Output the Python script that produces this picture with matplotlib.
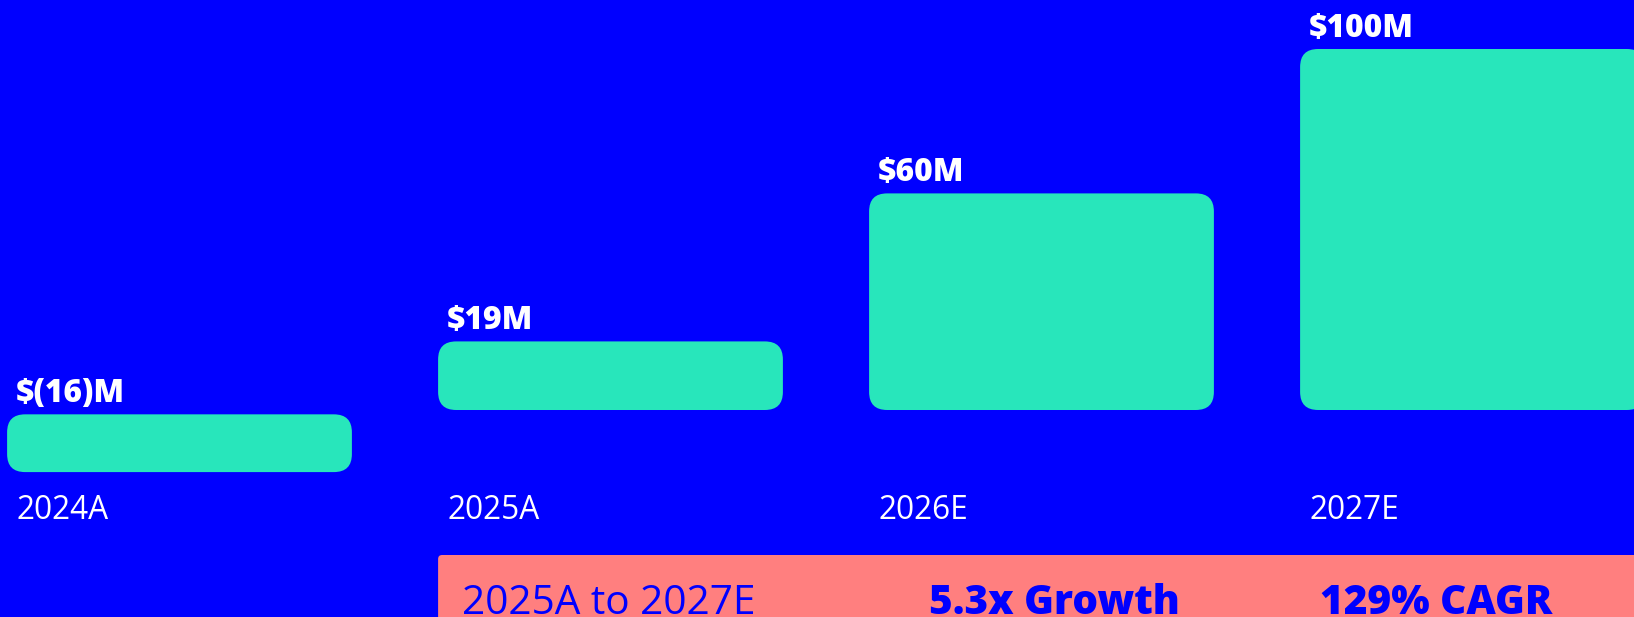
import matplotlib
matplotlib.use("Agg")
import matplotlib.pyplot as plt
from matplotlib.patches import FancyBboxPatch

# ---- data ----
categories = ["2024A", "2025A", "2026E", "2027E"]
values = [-16, 19, 60, 100]
value_labels = ["$(16)M", "$19M", "$60M", "$100M"]
summary_period = "2025A to 2027E"
summary_growth = "5.3x Growth"
summary_cagr = "129% CAGR"

BLUE = "#0000FF"
TEAL = "#28E6BB"
PINK = "#FF7F7F"
W, H, DPI = 1634, 617, 100
FONT = ["Open Sans", "DejaVu Sans"]

fig = plt.figure(figsize=(W / DPI, H / DPI), dpi=DPI, facecolor=BLUE)
ax = fig.add_axes([0, 0, 1, 1])
ax.set_facecolor(BLUE)
ax.axis("off")

px_x = 431.0   # pixels per category step
px_y = 3.61    # pixels per $M
base_px = 410.0  # baseline from top
ax.set_xlim(-179.5 / px_x, (W - 179.5) / px_x)
ax.set_ylim(-(H - base_px) / px_y, base_px / px_y)

# aspect for rounded corners (pixel-equal rounding)
mut_aspect = (1 / px_y) / (1 / px_x)
r_px = 18

gap = 1.2
x = list(range(len(categories)))
bottoms = [(-gap if v < 0 else 0) for v in values]
bars = ax.bar(x, values, width=0.8, bottom=bottoms, color=TEAL)

for bar, lab, cat in zip(bars, value_labels, categories):
    bx, by, bw, bh = bar.get_x(), bar.get_y(), bar.get_width(), bar.get_height()
    y0 = min(by, by + bh)
    h = abs(bh)
    top = y0 + h
    bar.set_visible(False)
    patch = FancyBboxPatch((bx, y0), bw, h,
                           boxstyle=f"round,pad=0,rounding_size={r_px / px_x}",
                           mutation_aspect=mut_aspect,
                           facecolor=TEAL, edgecolor="none", zorder=2,
                           clip_on=False)
    ax.add_patch(patch)
    ax.annotate(lab, xy=(bx, top), xytext=(9 * 0.72, 12 * 0.72),
                textcoords="offset points", ha="left", va="baseline",
                color="white", fontsize=22.8, fontweight=800, family=FONT)
    ax.annotate(cat, xy=(bx, 0), xytext=(9 * 0.72, -109.3 * 0.72),
                textcoords="offset points", ha="left", va="baseline",
                color="white", fontsize=22.8, family=FONT)

# summary box, anchored to 2025A bar
b2 = bars[1]
box_left = b2.get_x()
box_top = (base_px - 555) / px_y
box = FancyBboxPatch((box_left, box_top - 60), 5, 60,
                     boxstyle=f"round,pad=0,rounding_size={4 / px_x}",
                     mutation_aspect=mut_aspect,
                     facecolor=PINK, edgecolor="none", zorder=1)
ax.add_patch(box)

text_base = (base_px - 614) / px_y
ax.text(b2.get_x() + 23.7 / px_x, text_base, summary_period, ha="left", va="baseline",
        color=BLUE, fontsize=29.2, family=FONT, zorder=3)
ax.text(bars[2].get_x() + 60 / px_x, text_base, summary_growth, ha="left", va="baseline",
        color=BLUE, fontsize=29.2, fontweight=800, family=FONT, zorder=3)
ax.text(bars[3].get_x() + 20 / px_x, text_base, summary_cagr, ha="left", va="baseline",
        color=BLUE, fontsize=29.2, fontweight=800, family=FONT, zorder=3)

fig.savefig("out.png", dpi=DPI, facecolor=BLUE)
